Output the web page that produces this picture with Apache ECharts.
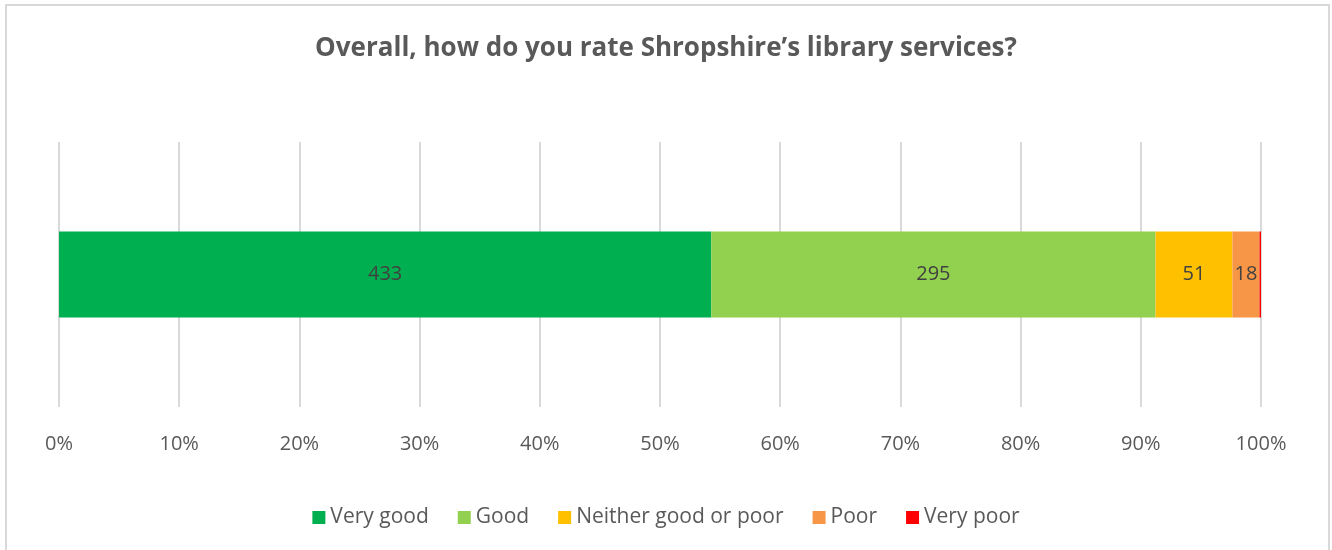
<!DOCTYPE html>
<html>
<head>
<meta charset="utf-8">
<script src="https://cdn.jsdelivr.net/npm/echarts@6/dist/echarts.min.js"></script>
<style>
html,body{margin:0;padding:0;background:#fff;}
#chart{width:1332px;height:550px;}
</style>
</head>
<body>
<div id="chart"></div>
<script>
// survey answers, counts of responses
var ratings = ['Very good', 'Good', 'Neither good or poor', 'Poor', 'Very poor'];
var counts = [433, 295, 51, 18, 1];
var colors = ['#00b050', '#92d050', '#ffc000', '#f79646', '#ff0000'];
var ticks = [0, 10, 20, 30, 40, 50, 60, 70, 80, 90, 100];

var total = counts.reduce(function(a, b){ return a + b; }, 0);
var txt = '#595959';
var font = '"Open Sans", "Noto Sans", sans-serif';

var series = ratings.map(function(name, i){
	return {
		name: name,
		type: 'bar',
		stack: 'all',
		barWidth: 86,
		itemStyle: {color: colors[i]},
		label: {
			show: counts[i] > 5,
			position: 'inside',
			color: '#404040',
			fontFamily: font,
			fontSize: 20,
			formatter: function(){ return counts[i]; }
		},
		data: [counts[i] / total * 100]
	};
});

var myChart = echarts.init(document.getElementById('chart'));
myChart.setOption({
	animation: false,
	backgroundColor: '#fff',
	title: {
		text: 'Overall, how do you rate Shropshire\u2019s library services?',
		left: 'center',
		top: 31,
		textStyle: {color: txt, fontFamily: font, fontSize: 26, fontWeight: 'bold'}
	},
	graphic: [{
		type: 'rect',
		shape: {x: 6, y: 5, width: 1323, height: 560},
		style: {fill: 'none', stroke: '#d9d9d9', lineWidth: 2},
		silent: true
	}],
	legend: {
		bottom: 17,
		left: 'center',
		itemWidth: 13,
		itemHeight: 13,
		itemGap: 29,
		icon: 'rect',
		textStyle: {color: txt, fontFamily: font, fontSize: 21},
		data: ratings
	},
	grid: {left: 59, right: 71, top: 142, bottom: 143},
	xAxis: {
		type: 'value',
		min: ticks[0],
		max: ticks[ticks.length - 1],
		interval: 10,
		axisLine: {show: false},
		axisTick: {show: false},
		splitLine: {lineStyle: {color: '#d9d9d9', width: 2}},
		axisLabel: {color: txt, fontFamily: font, fontSize: 20, margin: 27, formatter: '{value}%'}
	},
	yAxis: {
		type: 'category',
		data: [''],
		axisLine: {show: false},
		axisTick: {show: false},
		axisLabel: {show: false}
	},
	series: series
});
</script>
</body>
</html>
